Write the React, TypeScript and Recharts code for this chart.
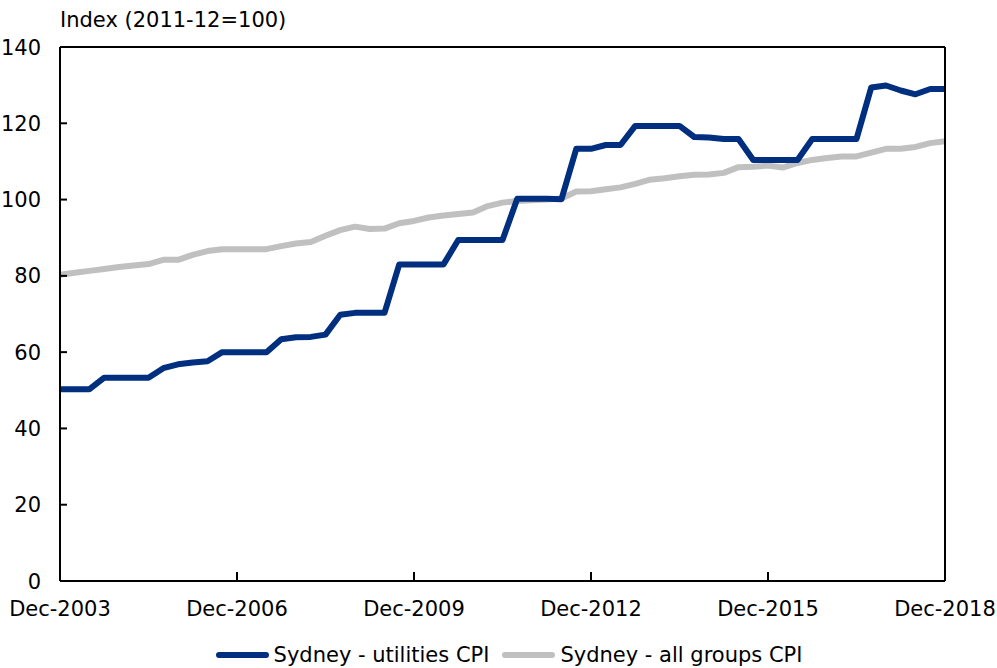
import React from 'react';
import { LineChart, Line, XAxis, YAxis, Legend } from 'recharts';

const months = ['Dec', 'Mar', 'Jun', 'Sep'];
// quarterly, Dec-2003 .. Dec-2018
const quarters: string[] = [];
for (let i = 0; i <= 60; i++) {
  const year = 2003 + Math.ceil(i / 4);
  quarters.push(`${months[i % 4]}-${year}`);
}

const utilities = [
  50.3, 50.3, 50.3, 53.3, 53.3, 53.3, 53.3, 55.8, 56.8, 57.3,
  57.6, 60.0, 60.0, 60.0, 60.0, 63.4, 63.9, 64.0, 64.6, 69.8,
  70.3, 70.3, 70.3, 83.0, 83.0, 83.0, 83.0, 89.4, 89.4, 89.4,
  89.4, 100.2, 100.2, 100.2, 100.1, 113.3, 113.3, 114.3, 114.3, 119.3,
  119.3, 119.3, 119.3, 116.4, 116.3, 115.9, 115.9, 110.4, 110.4, 110.4,
  110.4, 115.9, 115.9, 115.9, 115.9, 129.4, 129.9, 128.6, 127.6, 129.0,
  129.0,
];

const allGroups = [
  80.3, 80.8, 81.3, 81.8, 82.3, 82.7, 83.1, 84.2, 84.2, 85.5,
  86.5, 87.0, 87.0, 87.0, 87.0, 87.8, 88.5, 88.9, 90.5, 92.0,
  92.9, 92.3, 92.4, 93.8, 94.4, 95.3, 95.8, 96.2, 96.6, 98.3,
  99.2, 99.6, 99.8, 100.0, 100.3, 102.1, 102.2, 102.7, 103.2, 104.1,
  105.2, 105.6, 106.1, 106.5, 106.6, 107.0, 108.5, 108.6, 108.9, 108.4,
  109.6, 110.4, 110.9, 111.3, 111.3, 112.3, 113.3, 113.3, 113.8, 114.8,
  115.3,
];

const yTicks = [0, 20, 40, 60, 80, 100, 120, 140];

const data = quarters.map((q, i) => ({
  quarter: q,
  utilities: utilities[i],
  allGroups: allGroups[i],
}));

const font = '"DejaVu Sans", Verdana, sans-serif';
const BLUE = '#002f7f';
const GREY = '#c0c0c0';
const FS = 21;

const legendItems = [
  { label: 'Sydney - utilities CPI', color: BLUE },
  { label: 'Sydney - all groups CPI', color: GREY },
];

const ChartLegend = () => (
  <div style={{ display: 'flex', justifyContent: 'center', alignItems: 'center', height: 26, paddingLeft: 72, fontFamily: font, fontSize: FS }}>
    {legendItems.map((it, i) => (
      <div key={it.label} style={{ display: 'flex', alignItems: 'center', marginLeft: i ? 13 : 0 }}>
        <span style={{ display: 'inline-block', width: 53, height: 6, background: it.color, borderRadius: 3, marginRight: 5 }} />
        <span>{it.label}</span>
      </div>
    ))}
  </div>
);

// ticks drawn inside the plot, labels outside
const YTick = (props: any) => {
  const { x, y, payload } = props;
  return (
    <g>
      <line x1={x} x2={x + 7} y1={y} y2={y} stroke="#000" strokeWidth={2} />
      <text x={x - 19} y={y} dy="0.36em" textAnchor="end" fontSize={FS} fontFamily={font} fill="#000">
        {payload.value}
      </text>
    </g>
  );
};

const XTick = (props: any) => {
  const { x, y, payload, index } = props;
  return (
    <g>
      {index > 0 && index < 5 && <line x1={x} x2={x} y1={y} y2={y - 9} stroke="#000" strokeWidth={2} />}
      <text x={x} y={y + 27} dy="0.36em" textAnchor="middle" fontSize={FS} fontFamily={font} fill="#000">
        {payload.value}
      </text>
    </g>
  );
};

export default function App() {
  return (
    <div style={{ position: 'absolute', left: 0, top: 0, width: 997, height: 668, background: '#fff' }}>
      <div style={{ position: 'absolute', left: 60, top: 8, fontFamily: font, fontSize: FS, color: '#000' }}>
        Index (2011-12=100)
      </div>
      <LineChart width={997} height={668} data={data} margin={{ top: 46, right: 51, left: 0, bottom: 0 }}>
        <XAxis
          dataKey="quarter"
          interval={11}
          height={61}
          tickSize={0}
          tickMargin={0}
          tickLine={false}
          stroke="#000"
          strokeWidth={2}
          tick={<XTick />}
        />
        <XAxis xAxisId="top" orientation="top" dataKey="quarter" height={1} tick={false} tickLine={false} stroke="#000" strokeWidth={2} />
        <YAxis
          domain={[0, 140]}
          ticks={yTicks}
          width={60}
          tickSize={0}
          tickMargin={0}
          tickLine={false}
          stroke="#000"
          strokeWidth={2}
          tick={<YTick />}
        />
        <YAxis yAxisId="right" orientation="right" domain={[0, 140]} width={1} tick={false} tickLine={false} stroke="#000" strokeWidth={2} />
        <Legend verticalAlign="bottom" content={() => <ChartLegend />} />
        <Line dataKey="allGroups" stroke={GREY} strokeWidth={6} dot={false} isAnimationActive={false} strokeLinejoin="round" />
        <Line dataKey="utilities" stroke={BLUE} strokeWidth={6} dot={false} isAnimationActive={false} strokeLinejoin="round" />
      </LineChart>
    </div>
  );
}
